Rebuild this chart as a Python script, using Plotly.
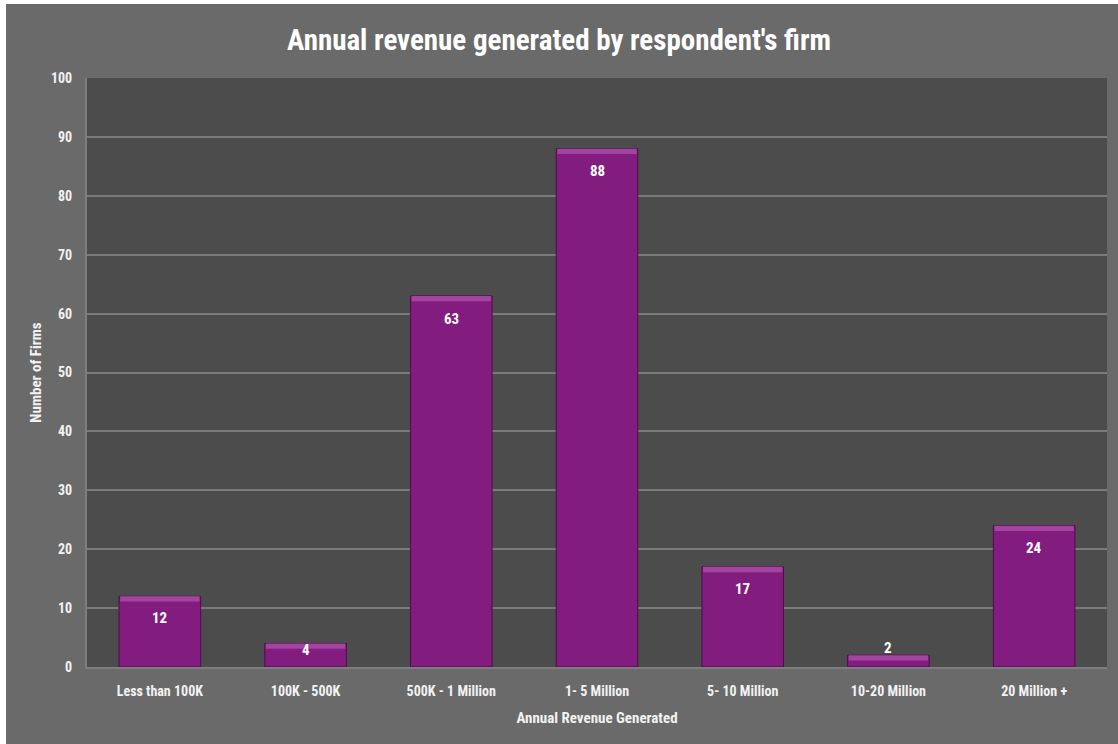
import plotly.graph_objects as go

categories = ["Less than 100K", "100K - 500K", "500K - 1 Million", "1- 5 Million",
              "5- 10 Million", "10-20 Million", "20 Million +"]
firms = [12, 4, 63, 88, 17, 2, 24]
y_ticks = [0, 10, 20, 30, 40, 50, 60, 70, 80, 90, 100]

title_text = "Annual revenue generated by respondent's firm"
x_title = "Annual Revenue Generated"
y_title = "Number of Firms"

# label pixel offsets (style)
label_shift = [-22, -7, -23, -22, -22, 7, -22]

FONT = "Liberation Sans Narrow, Roboto Condensed, Arial Narrow, sans-serif"
W, H = 1118, 744
ML, MR, MT, MB = 87, 11, 78, 77
PW, PH = W - ML - MR, H - MT - MB

fig = go.Figure()
fig.add_trace(go.Bar(
    x=categories, y=firms, width=0.56,
    marker=dict(color="#821c7e", line=dict(color="#4f0c4c", width=1)),
    hoverinfo="x+y",
))
# lighter bevel on top of each bar
bevel = 0.9
fig.add_trace(go.Bar(
    x=categories, y=[bevel] * len(firms), base=[v - bevel for v in firms], width=0.545,
    marker=dict(color="#a244a0", line=dict(width=0)),
    hoverinfo="skip",
))

for c, v, s in zip(categories, firms, label_shift):
    fig.add_annotation(x=c, y=v, text=f"<b>{v}</b>", showarrow=False,
                       yanchor="middle", yshift=s,
                       font=dict(family=FONT, size=15, color="white"))

# white strips on left and top edge
fig.add_shape(type="rect", xref="paper", yref="paper",
              x0=-ML / PW, x1=(6 - ML) / PW, y0=-MB / PH, y1=1 + MT / PH,
              fillcolor="white", line_width=0, layer="above")
fig.add_shape(type="rect", xref="paper", yref="paper",
              x0=-ML / PW, x1=1 + MR / PW, y0=1 + (MT - 4) / PH, y1=1 + MT / PH,
              fillcolor="white", line_width=0, layer="above")

fig.update_layout(
    width=W, height=H,
    margin=dict(l=ML, r=MR, t=MT, b=MB),
    paper_bgcolor="#6a6a6a", plot_bgcolor="#4c4c4c",
    barmode="overlay", showlegend=False, bargap=0.44,
    title=dict(text=f"<b>{title_text}</b>", x=0.5, xanchor="center",
               y=1 - 40 / H, yanchor="middle",
               font=dict(family=FONT, size=29, color="white")),
    xaxis=dict(
        showgrid=False, showline=True, linecolor="#7e7e7e", linewidth=2,
        ticks="", ticklabelstandoff=10,
        tickfont=dict(family=FONT, size=14, color="#f2f2f2", weight="bold"),
        title=dict(text=f"<b>{x_title}</b>", standoff=15,
                   font=dict(family=FONT, size=15, color="#f2f2f2")),
    ),
    yaxis=dict(
        range=[0, 100], tickvals=y_ticks, showgrid=True, gridcolor="#7a7a7a", gridwidth=2,
        showline=True, linecolor="#7e7e7e", linewidth=2, zeroline=False,
        ticks="", ticklabelstandoff=10,
        tickfont=dict(family=FONT, size=14, color="#f2f2f2", weight="bold"),
        title=dict(text=f"<b>{y_title}</b>", standoff=6,
                   font=dict(family=FONT, size=15, color="#f2f2f2")),
    ),
    font=dict(family=FONT, color="white"),
)

fig.write_html("out.html", config={"displayModeBar": False},
               post_script="document.body.style.margin='0';")
